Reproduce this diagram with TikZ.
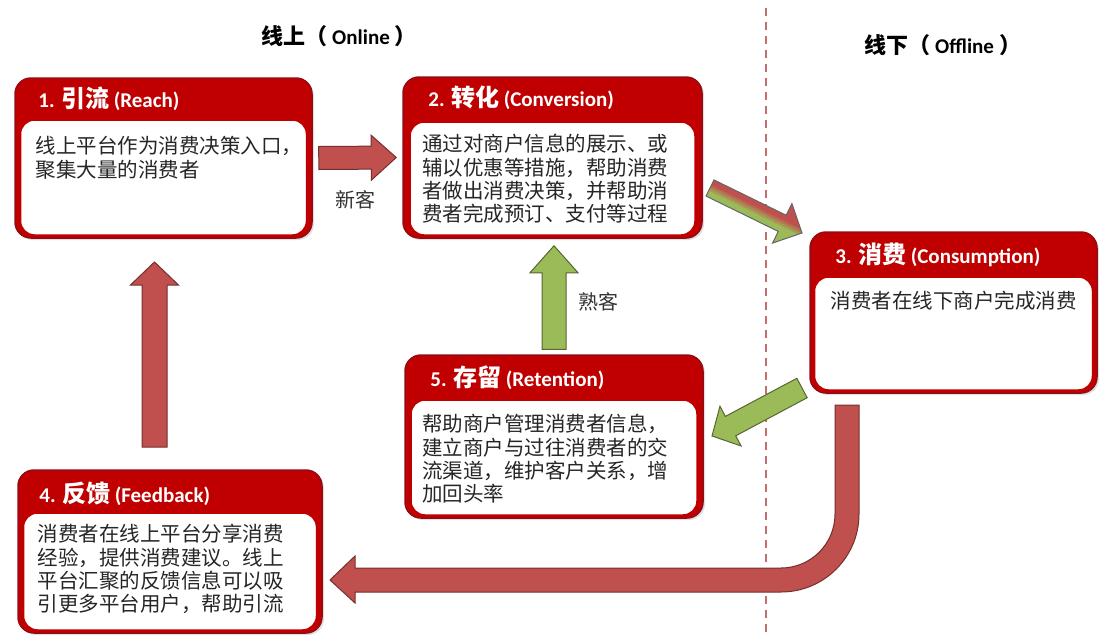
\documentclass[tikz,border=0pt]{standalone}
\usepackage{fontspec}
\setmainfont{Carlito}
\newfontfamily\cjk{Noto Sans CJK SC}
\usetikzlibrary{positioning, calc, shadows}

\definecolor{boxred}{RGB}{192,0,0}
\definecolor{edgered}{RGB}{150,10,20}
\definecolor{arrred}{RGB}{192,80,77}
\definecolor{arrgreen}{RGB}{155,187,89}
\definecolor{linered}{RGB}{195,110,110}

% chinese part of a stage title
\newcommand{\hz}[1]{{\cjk\bfseries\fontsize{24}{26}\selectfont #1}}
\newcommand{\zh}[1]{{\cjk\fontsize{22}{24}\selectfont #1}}

% angle and length from one point to another
\newcommand{\arrowgeom}[2]{%
  \path let \p1=(#1), \p2=(#2) in \pgfextra{%
    \pgfmathsetmacro\arrang{atan2(\y2-(\y1),\x2-(\x1))}%
    \pgfmathsetmacro\arrlen{veclen(\x2-(\x1),\y2-(\y1))}%
    \xdef\ArrAng{\arrang}\xdef\ArrLen{\arrlen}};
}
% outline in local coordinates: half shaft, half head, head length
\newcommand{\arrowoutline}[3]{(0pt,#1pt) -- (\ArrLen pt-#3pt,#1pt) -- (\ArrLen pt-#3pt,#2pt) -- (\ArrLen pt,0pt)
    -- (\ArrLen pt-#3pt,-#2pt) -- (\ArrLen pt-#3pt,-#1pt) -- (0pt,-#1pt) -- cycle}
% block arrow: style, from, to, half shaft, half head, head length
\newcommand{\fatarrow}[6]{%
  \arrowgeom{#2}{#3}
  \draw[#1, shift={(#2)}, rotate=\ArrAng] \arrowoutline{#4}{#5}{#6};
}

\begin{document}
\begin{tikzpicture}[x=1pt, y=-1pt,
    stage/.style = {draw=edgered, fill=boxred, line width=1.5pt, rounded corners=16pt, inner sep=0pt,
      drop shadow={opacity=0.25, shadow xshift=2pt, shadow yshift=-2pt}},
    stagebody/.style = {draw=boxred, fill=white, line width=1.5pt, rounded corners=14pt, inner sep=0pt, anchor=south},
    stagehead/.style = {anchor=base west, inner sep=0pt, text=white, font=\bfseries\fontsize{21}{24}\selectfont},
    bodytext/.style = {anchor=north west, align=left, inner sep=0pt, text=black!85, font=\cjk\fontsize{20.5}{23.3}\selectfont},
    sidetitle/.style = {anchor=base west, inner sep=0pt, font=\bfseries\fontsize{21}{24}\selectfont},
    tag/.style = {inner sep=0pt, text=black!80, font=\cjk\fontsize{20}{22}\selectfont},
    divider/.style = {draw=linered, line width=2pt, dash pattern=on 8pt off 6pt},
    redarrow/.style = {draw=arrred!60!black, fill=arrred, line width=1pt, line join=miter},
    greenarrow/.style = {draw=arrgreen!55!black, fill=arrgreen, line width=1pt, line join=miter},
    mixedge/.style = {draw=black!60, line width=1pt, line join=miter},
  ]
  \useasboundingbox (0,0) rectangle (1099,635);

  \node[sidetitle] (online) at (261,44) {\zh{线上（}\hspace{5pt}Online\hspace{5pt}\zh{）}};
  \node[sidetitle] (offline) at (864,53) {\zh{线下（}\hspace{5pt}Offline\hspace{5pt}\zh{）}};

  \coordinate (div-top) at (766,8);
  \coordinate (div-bot) at (766,635);
  \draw[divider] (div-top) -- (div-bot);

  % the five stages
  \node[stage, minimum width=297pt, minimum height=160pt] (reach) at (163.5,158) {};
  \node[stagebody, minimum width=286pt, minimum height=115pt] (reach-b) at ([yshift=3pt]reach.south) {};
  \node[stagehead] (reach-h) at ([xshift=24pt, yshift=-30pt]reach.north west) {1. \hz{引流} (Reach)};
  \node[bodytext] (reach-t) at ([xshift=16pt, yshift=-17pt]reach-b.north west) {线上平台作为消费决策入口，\\聚集大量的消费者};

  \node[stage, minimum width=299pt, minimum height=161pt] (convert) at (552.5,157.5) {};
  \node[stagebody, minimum width=285pt, minimum height=113pt] (convert-b) at ([yshift=3pt]convert.south) {};
  \node[stagehead] (convert-h) at ([xshift=26pt, yshift=-30pt]convert.north west) {2. \hz{转化} (Conversion)};
  \node[bodytext] (convert-t) at ([xshift=13pt, yshift=-13pt]convert-b.north west) {通过对商户信息的展示、或\\辅以优惠等措施，帮助消费\\者做出消费决策，并帮助消\\费者完成预订、支付等过程};

  \node[stage, minimum width=287pt, minimum height=161pt] (consume) at (953.5,312.5) {};
  \node[stagebody, minimum width=278pt, minimum height=113pt] (consume-b) at ([yshift=3pt]consume.south) {};
  \node[stagehead] (consume-h) at ([xshift=26pt, yshift=-32pt]consume.north west) {3. \hz{消费} (Consumption)};
  \node[bodytext] (consume-t) at ([xshift=17pt, yshift=-15pt]consume-b.north west) {消费者在线下商户完成消费};

  \node[stage, minimum width=304pt, minimum height=163pt] (feedback) at (170,551.5) {};
  \node[stagebody, minimum width=293pt, minimum height=117pt] (feedback-b) at ([yshift=3pt]feedback.south) {};
  \node[stagehead] (feedback-h) at ([xshift=22pt, yshift=-33pt]feedback.north west) {4. \hz{反馈} (Feedback)};
  \node[bodytext] (feedback-t) at ([xshift=15pt, yshift=-12pt]feedback-b.north west) {消费者在线上平台分享消费\\经验，提供消费建议。线上\\平台汇聚的反馈信息可以吸\\引更多平台用户，帮助引流};

  \node[stage, minimum width=298pt, minimum height=163pt] (retain) at (554,436.5) {};
  \node[stagebody, minimum width=286pt, minimum height=115pt] (retain-b) at ([yshift=3pt]retain.south) {};
  \node[stagehead] (retain-h) at ([xshift=26pt, yshift=-32pt]retain.north west) {5. \hz{存留} (Retention)};
  \node[bodytext] (retain-t) at ([xshift=12pt, yshift=-15pt]retain-b.north west) {帮助商户管理消费者信息，\\建立商户与过往消费者的交\\流渠道，维护客户关系，增\\加回头率};

  % arrows
  \coordinate (reach-out) at ([xshift=6pt]reach.east);
  \coordinate (conv-in) at ([xshift=-6pt]convert.west);
  \coordinate (conv-out) at (710,188);
  \coordinate (cons-in) at (802,233);
  \coordinate (cons-out) at (802,388);
  \coordinate (ret-in) at (712,436);
  \coordinate (ret-out) at ([yshift=5pt]retain.north);
  \coordinate (conv-back) at ($(ret-out |- convert.south)+(0,7)$);
  \coordinate (fb-out) at (154.5,447);
  \coordinate (reach-back) at (154.5,262);
  \coordinate (loop-top) at (847,405);

  \fatarrow{redarrow}{reach-out}{conv-in}{11.5}{22.5}{25}
  \fatarrow{greenarrow}{ret-out}{conv-back}{12}{24}{27}
  \fatarrow{greenarrow}{cons-out}{ret-in}{11}{22.5}{21}
  \fatarrow{redarrow}{fb-out}{reach-back}{12.5}{24}{23}

  % red above, green below
  \arrowgeom{conv-out}{cons-in}
  \begin{scope}[shift={(conv-out)}, rotate=\ArrAng]
    \begin{scope}
      \clip \arrowoutline{9}{22}{22};
      \fill[arrgreen] (-5pt,-30pt) rectangle (150pt,30pt);
      \fill[arrred] (-5pt,3pt) rectangle (150pt,30pt);
      \foreach \pct [count=\n] in {85,70,55,40,25}
        \fill[arrred!\pct!arrgreen] (-5pt,{(3-1.2*\n)*1pt}) rectangle (150pt,{(4.2-1.2*\n)*1pt});
    \end{scope}
    \draw[mixedge] \arrowoutline{9}{22}{22};
  \end{scope}

  \draw[redarrow] ([xshift=-12pt]loop-top) -- ++(0,109) arc[start angle=0, end angle=90, radius=54]
    -- ++(-426,0) -- ++(0,-12) -- ++(-25,24) -- ++(25,23) -- ++(0,-11)
    -- ++(426,0) arc[start angle=90, end angle=0, radius=78] -- ++(0,-109) -- cycle;

  \node[tag] (newcust) at (355,200) {新客};
  \node[tag] (oldcust) at (598,302) {熟客};
\end{tikzpicture}
\end{document}
